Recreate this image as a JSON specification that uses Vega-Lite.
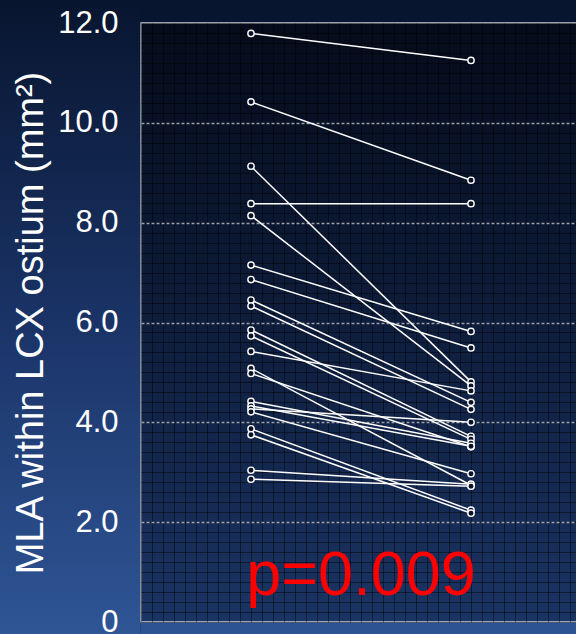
{
  "$schema": "https://vega.github.io/schema/vega-lite/v6.json",
  "width": 440,
  "height": 599,
  "autosize": {"type": "none"},
  "padding": {"left": 141, "top": 23, "right": 0, "bottom": 12},
  "background": "#08152f",
  "config": {
    "font": "Liberation Sans",
    "view": {
      "fill": {
        "gradient": "linear", "x1": 0, "y1": 0, "x2": 0, "y2": 1,
        "stops": [
          {"offset": 0, "color": "#050b1a"},
          {"offset": 0.5, "color": "#0e1d3c"},
          {"offset": 1, "color": "#1a3463"}
        ]
      },
      "stroke": "#c9d0dc",
      "strokeWidth": 1.5
    }
  },
  "data": {
    "values": [
      {"patient": 1, "visit": 1, "mla": 11.79}, {"patient": 1, "visit": 2, "mla": 11.25},
      {"patient": 2, "visit": 1, "mla": 10.42}, {"patient": 2, "visit": 2, "mla": 8.85},
      {"patient": 3, "visit": 1, "mla": 9.13}, {"patient": 3, "visit": 2, "mla": 4.81},
      {"patient": 4, "visit": 1, "mla": 8.38}, {"patient": 4, "visit": 2, "mla": 8.38},
      {"patient": 5, "visit": 1, "mla": 8.14}, {"patient": 5, "visit": 2, "mla": 4.73},
      {"patient": 6, "visit": 1, "mla": 7.15}, {"patient": 6, "visit": 2, "mla": 5.82},
      {"patient": 7, "visit": 1, "mla": 6.86}, {"patient": 7, "visit": 2, "mla": 5.49},
      {"patient": 8, "visit": 1, "mla": 6.45}, {"patient": 8, "visit": 2, "mla": 4.40},
      {"patient": 9, "visit": 1, "mla": 6.33}, {"patient": 9, "visit": 2, "mla": 4.26},
      {"patient": 10, "visit": 1, "mla": 5.85}, {"patient": 10, "visit": 2, "mla": 3.72},
      {"patient": 11, "visit": 1, "mla": 5.73}, {"patient": 11, "visit": 2, "mla": 3.66},
      {"patient": 12, "visit": 1, "mla": 5.42}, {"patient": 12, "visit": 2, "mla": 4.63},
      {"patient": 13, "visit": 1, "mla": 5.08}, {"patient": 13, "visit": 2, "mla": 2.74},
      {"patient": 14, "visit": 1, "mla": 4.98}, {"patient": 14, "visit": 2, "mla": 3.51},
      {"patient": 15, "visit": 1, "mla": 4.42}, {"patient": 15, "visit": 2, "mla": 3.58},
      {"patient": 16, "visit": 1, "mla": 4.33}, {"patient": 16, "visit": 2, "mla": 3.52},
      {"patient": 17, "visit": 1, "mla": 4.27}, {"patient": 17, "visit": 2, "mla": 4.00},
      {"patient": 18, "visit": 1, "mla": 4.21}, {"patient": 18, "visit": 2, "mla": 2.97},
      {"patient": 19, "visit": 1, "mla": 3.87}, {"patient": 19, "visit": 2, "mla": 2.24},
      {"patient": 20, "visit": 1, "mla": 3.75}, {"patient": 20, "visit": 2, "mla": 2.18},
      {"patient": 21, "visit": 1, "mla": 3.04}, {"patient": 21, "visit": 2, "mla": 2.76},
      {"patient": 22, "visit": 1, "mla": 2.86}, {"patient": 22, "visit": 2, "mla": 2.72}
    ]
  },
  "resolve": {"axis": {"x": "independent", "y": "independent"}},
  "layer": [
    {
      "data": {"values": [{}]},
      "mark": {
        "type": "rect",
        "fill": {
          "gradient": "linear", "x1": 0, "y1": 0, "x2": 0, "y2": 1,
          "stops": [
            {"offset": 0, "color": "#08152f"},
            {"offset": 0.5, "color": "#1a3366"},
            {"offset": 1, "color": "#2f5595"}
          ]
        }
      },
      "encoding": {
        "x": {"datum": -0.4, "type": "quantitative", "axis": null,
              "scale": {"domain": [0.5, 2.5], "nice": false, "zero": false}},
        "x2": {"datum": 0.4965},
        "y": {"datum": 12.4608, "type": "quantitative", "axis": null,
              "scale": {"domain": [0, 12], "nice": false, "zero": false}},
        "y2": {"datum": -0.2404}
      }
    },
    {
      "data": {"values": [{}]},
      "mark": {"type": "rect", "fill": "#2e5393"},
      "encoding": {
        "x": {"datum": 0.4965, "type": "quantitative", "axis": null,
              "scale": {"domain": [0.5, 2.5], "nice": false, "zero": false}},
        "x2": {"datum": 2.7},
        "y": {"datum": -0.016, "type": "quantitative", "axis": null,
              "scale": {"domain": [0, 12], "nice": false, "zero": false}},
        "y2": {"datum": -0.3}
      }
    },
    {
      "data": {"values": [{}]},
      "mark": {"type": "text", "fontSize": 63, "color": "#ff0000", "align": "center", "baseline": "alphabetic", "font": "Liberation Sans"},
      "encoding": {
        "x": {"datum": 1.5, "type": "quantitative", "axis": null,
              "scale": {"domain": [0.5, 2.5], "nice": false, "zero": false}},
        "y": {"datum": 0.54, "type": "quantitative",
              "scale": {"domain": [0, 12], "nice": false, "zero": false},
              "axis": {"orient": "right", "tickCount": 60, "grid": true, "gridColor": "#000000", "gridOpacity": 0.45, "gridWidth": 1,
                       "labels": false, "ticks": false, "domain": false, "title": null}},
        "text": {"value": "p=0.009"}
      }
    },
    {
      "mark": {"type": "line", "color": "#ffffff", "strokeWidth": 1.5},
      "encoding": {
        "x": {"field": "visit", "type": "quantitative",
              "scale": {"domain": [0.5, 2.5], "nice": false, "zero": false},
              "axis": {"orient": "bottom", "tickCount": 40, "grid": true, "gridColor": "#000000", "gridOpacity": 0.45, "gridWidth": 1,
                       "labels": false, "ticks": false, "domain": false, "title": null}},
        "y": {"field": "mla", "type": "quantitative",
              "scale": {"domain": [0, 12], "nice": false, "zero": false},
              "axis": {"orient": "left", "values": [0, 2, 4, 6, 8, 10, 12], "grid": false, "zindex": 1,
                       "labelExpr": "datum.value === 0 ? '0' : format(datum.value, '.1f')",
                       "labelFont": "Liberation Sans", "labelFontSize": 31, "labelColor": "#ffffff", "labelPadding": 23,
                       "labelFlush": false, "labelOverlap": false,
                       "ticks": false, "domain": false,
                       "title": "MLA within LCX ostium (mm²)", "titleFont": "Liberation Sans", "titleFontSize": 38,
                       "titleFontWeight": "normal", "titleColor": "#ffffff", "titlePadding": 7}},
        "detail": {"field": "patient", "type": "nominal"}
      }
    },
    {
      "mark": {"type": "point", "shape": "circle", "size": 40, "fill": "#0a1228", "fillOpacity": 1, "stroke": "#ffffff", "strokeWidth": 1.4, "opacity": 1},
      "encoding": {
        "x": {"field": "visit", "type": "quantitative", "axis": null,
              "scale": {"domain": [0.5, 2.5], "nice": false, "zero": false}},
        "y": {"field": "mla", "type": "quantitative",
              "scale": {"domain": [0, 12], "nice": false, "zero": false},
              "axis": {"orient": "left", "values": [2, 4, 6, 8, 10], "grid": true, "gridColor": "#aab1be", "gridWidth": 1.5, "gridDash": [3, 2], "gridOpacity": 0.9,
                       "labels": false, "ticks": false, "domain": false, "title": null}}
      }
    }
  ]
}
